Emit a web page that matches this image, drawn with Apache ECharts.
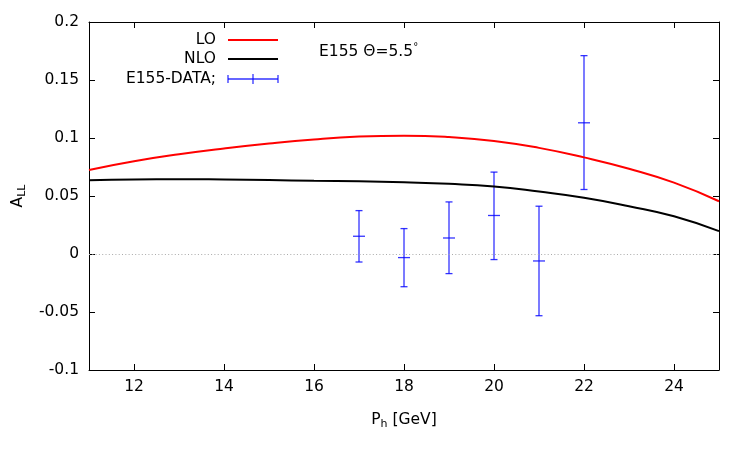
<!DOCTYPE html>
<html>
<head>
<meta charset="utf-8">
<script src="https://cdn.jsdelivr.net/npm/echarts@6/dist/echarts.min.js"></script>
<style>
  html, body { margin: 0; padding: 0; background: #fff; }
  #main { width: 750px; height: 450px; }
</style>
</head>
<body>
<div id="main"></div>
<script>
var myChart = echarts.init(document.getElementById('main'));

// theory curves (P_h in GeV)
var curveX = [11, 12, 13, 14, 15, 16, 17, 18, 19, 20, 21, 22, 23, 24, 25];
var loData = [0.0725, 0.0800, 0.0860, 0.0910, 0.0953, 0.0988, 0.1012, 0.1020, 0.1008, 0.0975, 0.0915, 0.0833, 0.0735, 0.0615, 0.0455];
var nloData = [0.0636, 0.0643, 0.0645, 0.0642, 0.0637, 0.0632, 0.0627, 0.0618, 0.0605, 0.0582, 0.0538, 0.0485, 0.0412, 0.0325, 0.0197];

// E155 data points with error bars
var dataX = [17, 18, 19, 20, 21, 22];
var dataA = [0.0153, -0.0031, 0.0138, 0.0332, -0.0060, 0.1131];
var dataLow = [-0.0069, -0.0282, -0.0169, -0.0048, -0.0532, 0.0556];
var dataHigh = [0.0374, 0.0219, 0.0449, 0.0706, 0.0412, 0.1710];

var xTicks = [12, 14, 16, 18, 20, 22, 24];
var yTicks = [-0.1, -0.05, 0, 0.05, 0.1, 0.15, 0.2];

var font = 'DejaVu Sans';
var fs = 15.5;
var blue = 'rgba(0,0,255,0.8)';

var loPts = curveX.map(function (x, i) { return [x, loData[i]]; });
var nloPts = curveX.map(function (x, i) { return [x, nloData[i]]; });
var errPts = dataX.map(function (x, i) { return [x, dataA[i], dataLow[i], dataHigh[i]]; });

function renderErr(params, api) {
    var x = api.value(0);
    var c = api.coord([x, api.value(1)]);
    var lo = api.coord([x, api.value(2)]);
    var hi = api.coord([x, api.value(3)]);
    var st = { stroke: blue, lineWidth: 1.3 };
    var cap = 3.5, mid = 6;
    return {
        type: 'group',
        children: [
            { type: 'line', shape: { x1: c[0], y1: hi[1], x2: c[0], y2: lo[1] }, style: st },
            { type: 'line', shape: { x1: c[0] - cap, y1: hi[1], x2: c[0] + cap, y2: hi[1] }, style: st },
            { type: 'line', shape: { x1: c[0] - cap, y1: lo[1], x2: c[0] + cap, y2: lo[1] }, style: st },
            { type: 'line', shape: { x1: c[0] - mid, y1: c[1], x2: c[0] + mid, y2: c[1] }, style: st }
        ]
    };
}

var tickStyle = { show: true, inside: true, length: 6, lineStyle: { color: '#000', width: 1 } };
var lineStyle = { show: true, onZero: false, lineStyle: { color: '#000', width: 1 } };

option = {
    animation: false,
    grid: { left: 89, right: 31, top: 22, bottom: 80 },
    xAxis: [
        {
            type: 'value', min: 11, max: 25, position: 'bottom',
            name: 'P{s|h} [GeV]', nameLocation: 'middle', nameGap: 40,
            nameTextStyle: {
                fontFamily: font, fontSize: fs, color: '#000', lineHeight: 20,
                rich: { s: { fontFamily: font, fontSize: 11, lineHeight: 12, verticalAlign: 'bottom', color: '#000' } }
            },
            axisLine: lineStyle,
            axisTick: Object.assign({ customValues: xTicks }, tickStyle),
            axisLabel: { customValues: xTicks, fontFamily: font, fontSize: fs, color: '#000', margin: 9 },
            splitLine: { show: false }
        },
        {
            type: 'value', min: 11, max: 25, position: 'top',
            axisLine: lineStyle,
            axisTick: Object.assign({ customValues: xTicks }, tickStyle),
            axisLabel: { show: false },
            splitLine: { show: false }
        }
    ],
    yAxis: [
        {
            type: 'value', min: -0.1, max: 0.2, position: 'left',
            name: 'A{s|LL}', nameLocation: 'middle', nameGap: 60, nameRotate: 90,
            nameTextStyle: {
                fontFamily: font, fontSize: fs, color: '#000', lineHeight: 20,
                rich: { s: { fontFamily: font, fontSize: 11, lineHeight: 12, verticalAlign: 'bottom', color: '#000' } }
            },
            axisLine: lineStyle,
            axisTick: Object.assign({ customValues: yTicks }, tickStyle),
            axisLabel: { customValues: yTicks, fontFamily: font, fontSize: fs, color: '#000', margin: 10 },
            splitLine: { show: false }
        },
        {
            type: 'value', min: -0.1, max: 0.2, position: 'right',
            axisLine: lineStyle,
            axisTick: Object.assign({ customValues: yTicks }, tickStyle),
            axisLabel: { show: false },
            splitLine: { show: false }
        }
    ],
    graphic: [
        { type: 'text', left: 319, top: 42, style: {
            text: '{a|E155 Θ=5.5}{d|°}',
            rich: {
                a: { fontFamily: font, fontSize: fs, lineHeight: 20, fill: '#000' },
                d: { fontFamily: font, fontSize: 10, lineHeight: 10, verticalAlign: 'top', fill: '#000' }
            }
        } },
        { type: 'text', x: 216, y: 40, style: { text: 'LO', fontFamily: font, fontSize: fs, fill: '#000', align: 'right', verticalAlign: 'middle' } },
        { type: 'text', x: 216, y: 59, style: { text: 'NLO', fontFamily: font, fontSize: fs, fill: '#000', align: 'right', verticalAlign: 'middle' } },
        { type: 'text', x: 216, y: 79, style: { text: 'E155-DATA;', fontFamily: font, fontSize: fs, fill: '#000', align: 'right', verticalAlign: 'middle' } },
        { type: 'line', shape: { x1: 228, y1: 40, x2: 278, y2: 40 }, style: { stroke: '#ff0000', lineWidth: 2 } },
        { type: 'line', shape: { x1: 228, y1: 59, x2: 278, y2: 59 }, style: { stroke: '#000', lineWidth: 2 } },
        { type: 'line', shape: { x1: 228, y1: 79, x2: 278, y2: 79 }, style: { stroke: blue, lineWidth: 1.3 } },
        { type: 'line', shape: { x1: 228, y1: 75, x2: 228, y2: 83 }, style: { stroke: blue, lineWidth: 1.3 } },
        { type: 'line', shape: { x1: 278, y1: 75, x2: 278, y2: 83 }, style: { stroke: blue, lineWidth: 1.3 } },
        { type: 'line', shape: { x1: 253, y1: 74, x2: 253, y2: 84 }, style: { stroke: blue, lineWidth: 1.3 } }
    ],
    series: [
        {
            name: 'NLO', type: 'line', data: nloPts, smooth: true, showSymbol: false,
            lineStyle: { color: '#000', width: 2 },
            markLine: {
                silent: true, symbol: 'none', label: { show: false },
                lineStyle: { color: '#aaa', width: 1, type: [1, 2.3] },
                data: [{ yAxis: 0 }]
            },
            z: 3
        },
        {
            name: 'LO', type: 'line', data: loPts, smooth: true, showSymbol: false,
            lineStyle: { color: '#ff0000', width: 2 },
            z: 4
        },
        {
            name: 'E155-DATA', type: 'custom', renderItem: renderErr, data: errPts,
            encode: { x: 0, y: [1, 2, 3] },
            z: 3
        }
    ]
};

// use configuration item and data specified to show chart
myChart.setOption(option);
</script>
</body>
</html>
